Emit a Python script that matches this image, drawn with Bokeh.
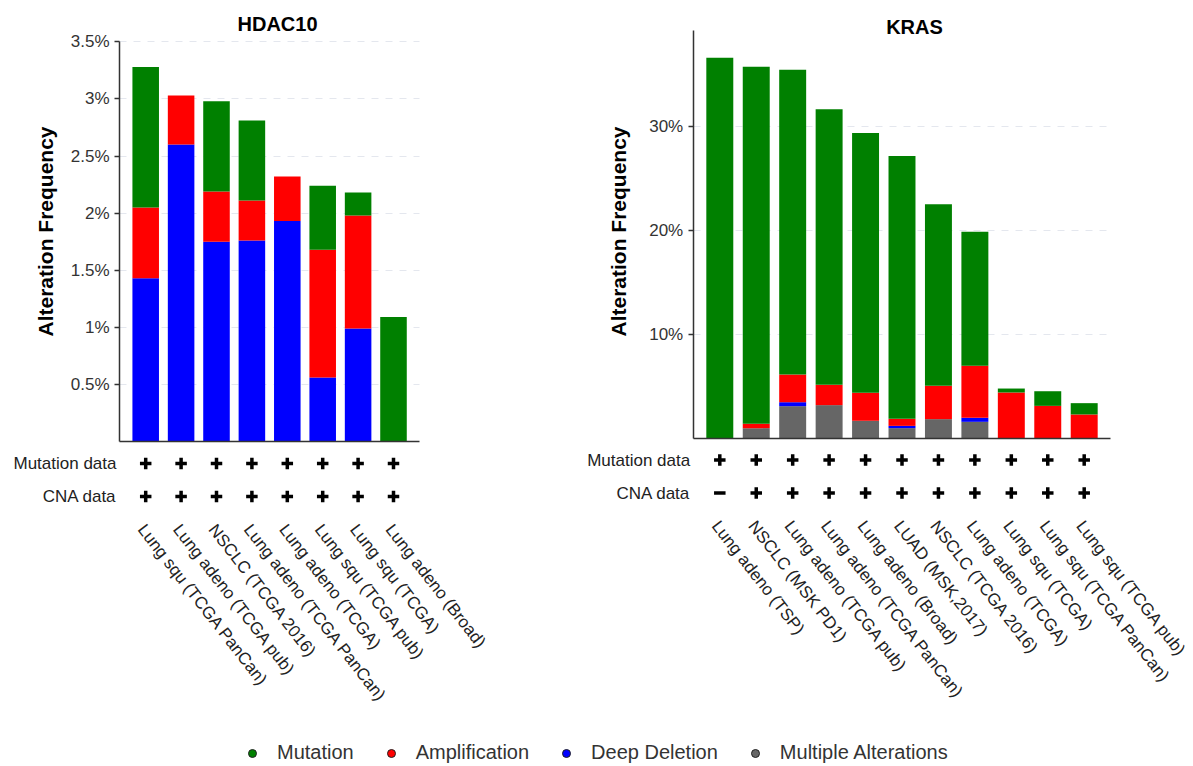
from bokeh.plotting import figure
from bokeh.models import (Range1d, LinearAxis, FixedTicker, Grid, ColumnDataSource,
                          Label, Legend, LegendItem, CustomJSTickFormatter)
from bokeh.layouts import column, row
from bokeh.embed import file_html
from bokeh.resources import INLINE
from bokeh.core.properties import value

FONT = "Liberation Sans"

# ---------------- data ----------------
hdac_studies = ["Lung squ (TCGA PanCan)", "Lung adeno (TCGA pub)", "NSCLC (TCGA 2016)",
                "Lung adeno (TCGA PanCan)", "Lung adeno (TCGA)", "Lung squ (TCGA pub)",
                "Lung squ (TCGA)", "Lung adeno (Broad)"]
hdac_mutation = [1.23, 0.00, 0.79, 0.70, 0.00, 0.56, 0.20, 1.09]
hdac_amplification = [0.62, 0.43, 0.44, 0.35, 0.39, 1.12, 0.99, 0.00]
hdac_deep_deletion = [1.43, 2.60, 1.75, 1.76, 1.93, 0.56, 0.99, 0.00]
hdac_multiple = [0, 0, 0, 0, 0, 0, 0, 0]
hdac_mut_data = ["+", "+", "+", "+", "+", "+", "+", "+"]
hdac_cna_data = ["+", "+", "+", "+", "+", "+", "+", "+"]
hdac_ticks = [0.5, 1, 1.5, 2, 2.5, 3, 3.5]

kras_studies = ["Lung adeno (TSP)", "NSCLC (MSK PD1)", "Lung adeno (TCGA pub)",
                "Lung adeno (TCGA PanCan)", "Lung adeno (Broad)", "LUAD (MSK,2017)",
                "NSCLC (TCGA 2016)", "Lung adeno (TCGA)", "Lung squ (TCGA)",
                "Lung squ (TCGA PanCan)", "Lung squ (TCGA pub)"]
kras_mutation = [36.66, 34.43, 29.38, 26.57, 25.04, 25.35, 17.52, 12.94, 0.38, 1.41, 1.09]
kras_amplification = [0.00, 0.42, 2.67, 1.96, 2.70, 0.68, 3.21, 5.01, 4.39, 3.10, 2.27]
kras_deep_deletion = [0.00, 0.00, 0.38, 0.00, 0.00, 0.22, 0.00, 0.39, 0.00, 0.00, 0.00]
kras_multiple = [0.00, 0.95, 3.07, 3.17, 1.66, 0.95, 1.82, 1.56, 0.00, 0.00, 0.00]
kras_mut_data = ["+", "+", "+", "+", "+", "+", "+", "+", "+", "+", "+"]
kras_cna_data = ["-", "+", "+", "+", "+", "+", "+", "+", "+", "+", "+"]
kras_ticks = [10, 20, 30]

legend_names = ["Mutation", "Amplification", "Deep Deletion", "Multiple Alterations"]
GREEN, RED, BLUE, GRAY = "#008000", "#ff0000", "#0000ff", "#666666"
legend_colors = [GREEN, RED, BLUE, GRAY]

PANEL_H = 725
LEGEND_H = 41
MUT_ROW_PX, CNA_ROW_PX = 22, 55
MARKERS = {"+": "cross", "-": "dash"}


def panel(gene, studies, mut, amp, dele, multi, mflags, cflags, ticks, axis_top, L):
    n = len(studies)

    def dx(px):
        return (px - L["cat0"]) / L["step"]

    def dy(py):
        return (L["zero"] - py) / L["ppu"]

    p = figure(width=L["w"], height=PANEL_H,
               x_range=Range1d(dx(L["left"]), dx(L["left"] + L["w"])),
               y_range=Range1d(dy(PANEL_H), dy(0)),
               output_backend="svg", toolbar_location=None,
               x_axis_type=None, y_axis_type=None, min_border=0,
               outline_line_color=None)
    p.background_fill_color = "white"

    ax_x = dx(L["axis_px"])
    ax_end = dx(L["axis_end_px"])

    ticker = FixedTicker(ticks=ticks, minor_ticks=[])
    yaxis = LinearAxis(fixed_location=ax_x, bounds=(0, axis_top), ticker=ticker,
                       formatter=CustomJSTickFormatter(code="return tick + '%'"),
                       axis_line_color="#333333", axis_line_width=1.5,
                       major_tick_line_color="#333333", major_tick_line_width=1.5,
                       major_tick_out=5, major_tick_in=0,
                       minor_tick_line_color=None,
                       major_label_standoff=5,
                       major_label_text_font=FONT,
                       major_label_text_font_size="17px",
                       major_label_text_color="#333333")
    p.add_layout(yaxis, "left")

    xaxis = LinearAxis(fixed_location=0, bounds=(ax_x, ax_end),
                       ticker=FixedTicker(ticks=[]),
                       axis_line_color="#333333", axis_line_width=1.5,
                       major_tick_line_color=None, minor_tick_line_color=None,
                       major_label_text_font_size="0px")
    p.add_layout(xaxis, "below")

    grid = Grid(dimension=1, ticker=ticker, cross_bounds=(ax_x, ax_end),
                grid_line_color="#e4e7ee", grid_line_dash="7 7", grid_line_width=1)
    p.add_layout(grid)

    src = ColumnDataSource(dict(
        x=list(range(n)), study=studies,
        multiple=multi, deep_deletion=dele, amplification=amp, mutation=mut,
        zero=[0] * n,
    ))
    p.vbar_stack(["multiple", "deep_deletion", "amplification", "mutation"],
                 x="x", width=L["bw"], source=src,
                 fill_color=[GRAY, BLUE, RED, GREEN], line_color=None)

    # availability rows
    flag_src = ColumnDataSource(dict(
        x=list(range(n)) * 2,
        y=[dy(L["zero"] + MUT_ROW_PX)] * n + [dy(L["zero"] + CNA_ROW_PX)] * n,
        marker=[MARKERS[f] for f in mflags] + [MARKERS[f] for f in cflags],
    ))
    p.scatter(x="x", y="y", marker="marker", size=11.5, line_width=3.5,
              line_color="black", fill_color="black", source=flag_src)

    row_src = ColumnDataSource(dict(
        x=[ax_x, ax_x], y=[0, 0], text=["Mutation data", "CNA data"],
        yo=[MUT_ROW_PX, CNA_ROW_PX]))
    p.text(x="x", y="y", text="text", source=row_src, x_offset=-3, y_offset="yo",
           text_align="right", text_baseline="middle",
           text_font=value(FONT), text_font_size="17px", text_color="#222222")

    # study names
    p.text(x="x", y="zero", text="study", source=src, angle=-52, angle_units="deg",
           x_offset=3, y_offset=79, text_align="left", text_baseline="top",
           text_font=value(FONT), text_font_size="17px", text_color="#222222")

    p.add_layout(Label(x=dx(L["title_px"]), y=dy(L["title_base"]), text=gene,
                       text_align="center", text_baseline="alphabetic",
                       text_font=FONT, text_font_style="bold",
                       text_font_size="20px", text_color="#000000"))
    p.add_layout(Label(x=dx(L["ytitle_x"]), y=dy(L["ytitle_y"]),
                       text="Alteration Frequency", angle=90, angle_units="deg",
                       text_align="center", text_baseline="middle",
                       text_font=FONT, text_font_style="bold",
                       text_font_size="21px", text_color="#000000"))
    return p


L_left = dict(left=0, w=560, cat0=145.2, step=35.4, zero=441.0, ppu=114.2, bw=0.75,
              axis_px=119, axis_end_px=419, title_px=277, title_base=23.5,
              ytitle_x=45, ytitle_y=231)
L_right = dict(left=560, w=633, cat0=719.3, step=36.44, zero=437.5, ppu=10.37, bw=0.74,
               axis_px=692.7, axis_end_px=1110, title_px=914, title_base=26,
               ytitle_x=617.5, ytitle_y=231)

p1 = panel("HDAC10", hdac_studies, hdac_mutation, hdac_amplification, hdac_deep_deletion,
           hdac_multiple, hdac_mut_data, hdac_cna_data, hdac_ticks, 3.5, L_left)
p2 = panel("KRAS", kras_studies, kras_mutation, kras_amplification, kras_deep_deletion,
           kras_multiple, kras_mut_data, kras_cna_data, kras_ticks, 39.3, L_right)

leg = figure(width=1193, height=LEGEND_H, x_range=Range1d(0, 1), y_range=Range1d(0, 1),
             output_backend="svg", toolbar_location=None,
             x_axis_type=None, y_axis_type=None, min_border=0, outline_line_color=None)
items = []
for name, col in zip(legend_names, legend_colors):
    # legend key only: a single point placed outside the visible range
    r = leg.scatter(x=[-10], y=[-10], marker="circle", size=10, fill_color=col,
                    line_color="#222222", line_width=1)
    items.append(LegendItem(label=name, renderers=[r]))
legend = Legend(items=items, orientation="horizontal", location=(242, 2),
                label_standoff=15, glyph_width=20, glyph_height=20, spacing=27,
                padding=0, margin=0, border_line_color=None, background_fill_alpha=0,
                label_text_font=FONT, label_text_font_size="20px",
                label_text_color="#333333")
leg.add_layout(legend, "center")

layout = column(row(p1, p2), leg)
open("out.html", "w").write(file_html(layout, INLINE))
